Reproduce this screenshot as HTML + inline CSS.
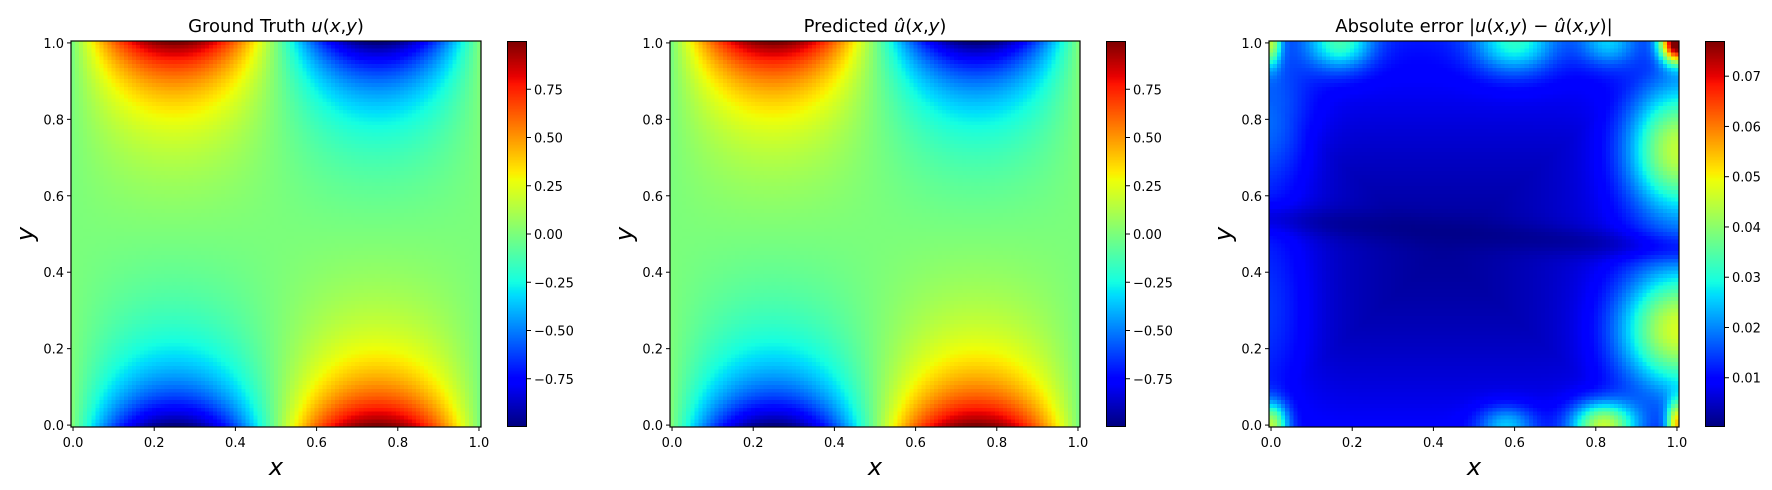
<!DOCTYPE html>
<html><head><meta charset="utf-8"><style>
html,body{margin:0;padding:0;background:#fff;}
#fig{position:relative;width:1772px;height:490px;overflow:hidden;font-family:"DejaVu Sans","Liberation Sans",sans-serif;}
canvas{position:absolute;image-rendering:pixelated;}
svg{position:absolute;left:0;top:0;}
</style></head><body>
<div id="fig">
<svg id="ov" width="1772" height="490"></svg>
</div>
<script>
// ---- data ----
const gridX = Array.from({length:101},(_,i)=>i/100);
const gridY = Array.from({length:101},(_,i)=>i/100);
const modeKx = [2];           // sin(2*pi*kx*x)
const modeAmp = [1.0];        // boundary amplitude
const truthRange = [-1.0, 1.0];
const errRange = [0.0002, 0.077];
const axisTicks = [0.0,0.2,0.4,0.6,0.8,1.0];
const axisTickLabels = ["0.0","0.2","0.4","0.6","0.8","1.0"];
const cbTicksU = [-0.75,-0.5,-0.25,0,0.25,0.5,0.75];
const cbLabelsU = ["\u22120.75","\u22120.50","\u22120.25","0.00","0.25","0.50","0.75"];
const cbTicksE = [0.01,0.02,0.03,0.04,0.05,0.06,0.07];
const cbLabelsE = ["0.01","0.02","0.03","0.04","0.05","0.06","0.07"];
// error bumps: x, y, amplitude, widths
const errBx  = [0.00,0.17,0.60,1.00,1.00,1.00,0.82,0.00,0.58,0.00,1.00,0.83,0.00];
const errBy  = [0.80,1.00,1.00,0.72,0.25,1.00,0.00,0.00,0.00,1.00,0.00,1.00,0.30];
const errBa  = [0.010,0.022,0.020,0.034,0.036,0.072,0.036,0.034,0.016,0.030,0.040,0.014,0.006];
const errBwx = [0.10,0.08,0.10,0.12,0.14,0.04,0.08,0.04,0.07,0.025,0.025,0.07,0.10];
const errBwy = [0.18,0.07,0.08,0.16,0.15,0.05,0.06,0.06,0.05,0.06,0.06,0.06,0.25];
const errBase = [0.011,0.002];

function jet(t){
  t=Math.max(0,Math.min(1,t));
  const f=(pts)=>{for(let i=1;i<pts.length;i++){if(t<=pts[i][0]){const a=pts[i-1],b=pts[i];return a[1]+(b[1]-a[1])*(t-a[0])/(b[0]-a[0]);}}return pts[pts.length-1][1];};
  const r=f([[0,0],[0.35,0],[0.66,1],[0.89,1],[1,0.5]]);
  const g=f([[0,0],[0.125,0],[0.375,1],[0.64,1],[0.91,0],[1,0]]);
  const b=f([[0,0.5],[0.11,1],[0.34,1],[0.65,0],[1,0]]);
  return [r*255|0,g*255|0,b*255|0];
}
function truth(x,y){let s=0;for(let k=0;k<modeKx.length;k++){const w=Math.PI*modeKx[k];s+=modeAmp[k]*Math.sin(w*x)*Math.sinh(w*(y-0.5))/Math.sinh(w*0.5);}return s;}
function errf(x,y){
  const d=Math.max(Math.abs(x-0.42)/0.58, Math.abs(y-0.45)/0.55);
  let s=errBase[1]+(errBase[0]-errBase[1])*Math.pow(Math.min(1,d),1.5);
  const q=(y-0.5+0.08*(x-0.5))/0.04;
  s*=1-0.6*Math.exp(-(q*q));
  for(let i=0;i<errBx.length;i++){const ax=(x-errBx[i])/errBwx[i], ay=(y-errBy[i])/errBwy[i];s+=errBa[i]*Math.exp(-(ax*ax+ay*ay));}
  return s;
}
const NS="http://www.w3.org/2000/svg";
const ov=document.getElementById('ov');
const fig=document.getElementById('fig');
function st(tag,attrs,txt){const e=document.createElementNS(NS,tag);for(const k in attrs)e.setAttribute(k,attrs[k]);if(txt!==undefined)e.textContent=txt;ov.appendChild(e);return e;}
const AW=410,AH=386,AT=41,X0=-0.005,X1=1.005;
const panels=[{L:71,fn:truth,rng:truthRange,ct:cbTicksU,cl:cbLabelsU,title:'t1',name:'ground-truth'},
              {L:670,fn:truth,rng:truthRange,ct:cbTicksU,cl:cbLabelsU,title:'t2',name:'predicted'},
              {L:1269,fn:errf,rng:errRange,ct:cbTicksE,cl:cbLabelsE,title:'t3',name:'abs-error'}];
panels.forEach((p)=>{
  const sx=v=>p.L+(v-X0)/(X1-X0)*AW;
  const sy=v=>AT+AH-(v-X0)/(X1-X0)*AH;
  const c=document.createElement('canvas');c.width=gridX.length;c.height=gridY.length;
  c.style.left=p.L+'px';c.style.top=AT+'px';c.style.width=AW+'px';c.style.height=AH+'px';
  
  
  const ctx=c.getContext('2d');const img=ctx.createImageData(c.width,c.height);
  for(let j=0;j<gridY.length;j++)for(let i=0;i<gridX.length;i++){
    const v=p.fn(gridX[i],gridY[j]);const col=jet((v-p.rng[0])/(p.rng[1]-p.rng[0]));
    const k=((gridY.length-1-j)*c.width+i)*4;img.data[k]=col[0];img.data[k+1]=col[1];img.data[k+2]=col[2];img.data[k+3]=255;}
  ctx.putImageData(img,0,0);fig.insertBefore(c,ov);
  // colorbar
  const CL=p.L+436,CW=20;
  const cb=document.createElement('canvas');cb.width=1;cb.height=256;
  cb.style.left=CL+'px';cb.style.top=AT+'px';cb.style.width=CW+'px';cb.style.height=AH+'px';
  
  
  const cx=cb.getContext('2d');const ci=cx.createImageData(1,256);
  for(let j=0;j<256;j++){const col=jet(1-j/255);ci.data[j*4]=col[0];ci.data[j*4+1]=col[1];ci.data[j*4+2]=col[2];ci.data[j*4+3]=255;}
  cx.putImageData(ci,0,0);fig.insertBefore(cb,ov);
  st('rect',{x:CL+0.5,y:AT+0.5,width:CW-1,height:AH-1,fill:'none',stroke:'#000','stroke-width':1,});
  p.ct.forEach((t,i)=>{const y=AT+AH-(t-p.rng[0])/(p.rng[1]-p.rng[0])*AH;
    st('line',{x1:CL+CW,x2:CL+CW+4,y1:y,y2:y,stroke:'#000',});
    st('text',{x:CL+CW+7,y:y+5,'font-size':13,},p.cl[i]);});
  // axes frame
  st('rect',{x:p.L,y:AT,width:AW,height:AH,fill:'none',stroke:'#000','stroke-width':1.2,});
  axisTicks.forEach((t,i)=>{const x=sx(t),y=sy(t);
    st('line',{x1:x,x2:x,y1:AT+AH,y2:AT+AH+4,stroke:'#000',});
    st('text',{x:x,y:AT+AH+20,'font-size':13,'text-anchor':'middle',},axisTickLabels[i]);
    st('line',{x1:p.L-4,x2:p.L,y1:y,y2:y,stroke:'#000',});
    st('text',{x:p.L-7,y:y+5,'font-size':13,'text-anchor':'end',},axisTickLabels[i]);});
  st('text',{x:p.L+AW/2,y:475,'font-size':24,'font-style':'italic','text-anchor':'middle',},'x');
  st('text',{x:p.L-42,y:AT+AH/2+4,'font-size':24,'font-style':'italic','text-anchor':'middle',transform:`rotate(-90 ${p.L-42} ${AT+AH/2})`,},'y');
  const tt=st('text',{x:p.L+AW/2,y:32,'font-size':18,'text-anchor':'middle',});
  const parts = p.title==='t1'?[['Ground Truth ',0],['u',1],['(',0],['x',1],[',',0],['y',1],[')',0]]
    : p.title==='t2'?[['Predicted ',0],['\u00fb',1],['(',0],['x',1],[',',0],['y',1],[')',0]]
    : [['Absolute error |',0],['u',1],['(',0],['x',1],[',',0],['y',1],[') \u2212 ',0],['\u00fb',1],['(',0],['x',1],[',',0],['y',1],[')|',0]];
  parts.forEach(q=>{const s=document.createElementNS(NS,'tspan');if(q[1])s.setAttribute('font-style','italic');s.textContent=q[0];tt.appendChild(s);});
});
</script>
</body></html>
